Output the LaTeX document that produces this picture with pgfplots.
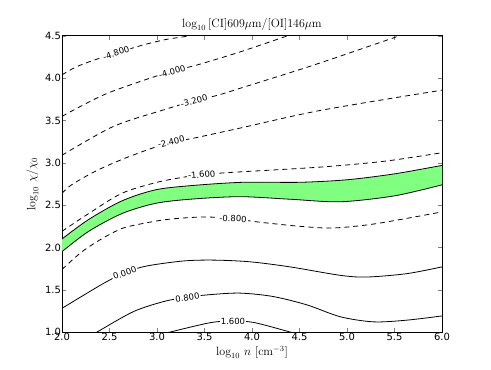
\documentclass[border=0pt]{standalone}
\usepackage{fontspec}
\usepackage{pgfplots}
\pgfplotsset{compat=1.18}
\usepgfplotslibrary{fillbetween}
\usetikzlibrary{calc}
\newfontfamily\dejavu{DejaVu Sans}
\definecolor{bandgreen}{RGB}{128,255,128}
\tikzset{clab/.style={font=\dejavu\fontsize{8.5}{10}\selectfont, fill=white, inner sep=1.2pt}}

\begin{document}
\begin{tikzpicture}
\begin{axis}[
    name=ax, set layers,
    width=380bp, height=296bp, scale only axis,
    xmin=2, xmax=6, ymin=1, ymax=4.5,
    xtick={2,2.5,3,3.5,4,4.5,5,5.5,6},
    ytick={1,1.5,2,2.5,3,3.5,4,4.5},
    tick align=inside,
    major tick length=4bp,
    axis line style={line width=1bp},
    ticklabel style={font=\dejavu\fontsize{10}{12}\selectfont},
    xticklabel style={yshift=2bp},
    yticklabel style={xshift=2.5bp},
    title={$\log_{10}\,[\mathrm{CI}]609\mu\mathrm{m}/[\mathrm{OI}]146\mu\mathrm{m}$},
    title style={font=\fontsize{12}{14}\selectfont, yshift=-4bp},
    xlabel={$\log_{10}\,n\ [\mathrm{cm}^{-3}]$},
    ylabel={$\log_{10}\,\chi/\chi_0$},
    xlabel style={yshift=2bp},
    label style={font=\fontsize{12}{14}\selectfont},
    cline/.style={black, line width=0.8bp, smooth, tension=0.5, mark=none},
    dline/.style={cline, dash pattern=on 5bp off 4bp},
    /pgf/number format/.cd, fixed, fixed zerofill, precision=1, assume math mode=true,
]
% green band between two contours
\addplot[cline, name path=up] coordinates {(2,2.10) (2.28,2.33) (2.63,2.55) (2.98,2.68) (3.35,2.73) (3.9,2.77) (4.5,2.77) (5.0,2.80) (5.5,2.87) (6,2.97)};
\addplot[cline, name path=lo] coordinates {(2,1.95) (2.28,2.19) (2.63,2.40) (2.98,2.52) (3.35,2.57) (3.87,2.60) (4.4,2.57) (4.93,2.54) (5.5,2.61) (6,2.74)};
\addplot[fill=bandgreen, draw=none] fill between[of=up and lo];

% dashed contours (negative levels)
\addplot[dline] coordinates {(2,4.04) (2.14,4.13) (2.35,4.22) (2.58,4.30) (2.84,4.39) (3.1,4.46) (3.33,4.50) (3.5,4.55)};
\addplot[dline] coordinates {(2,3.55) (2.43,3.80) (2.87,3.98) (3.15,4.08) (3.43,4.16) (3.87,4.31) (4.37,4.50) (4.5,4.54)};
\addplot[dline] coordinates {(2,3.09) (2.54,3.43) (3.08,3.63) (3.38,3.73) (3.64,3.80) (3.87,3.88) (4.66,4.16) (5.52,4.49) (5.6,4.52)};
\addplot[dline] coordinates {(2,2.64) (2.10,2.74) (2.35,2.90) (2.63,3.04) (2.94,3.17) (3.15,3.24) (3.42,3.30) (3.87,3.41) (4.72,3.62) (6,3.86)};
\addplot[dline] coordinates {(2,2.19) (2.28,2.40) (2.63,2.64) (3.0,2.77) (3.33,2.84) (3.49,2.86) (3.75,2.885) (4.72,2.95) (5.4,3.02) (6,3.12)};
\addplot[dline] coordinates {(2,1.74) (2.2,1.94) (2.40,2.09) (2.6,2.21) (2.75,2.26) (3.10,2.33) (3.49,2.36) (3.80,2.34) (4.07,2.30) (4.5,2.25) (4.85,2.23) (5.3,2.28) (6,2.42)};

% solid contours (positive levels)
\addplot[cline] coordinates {(2,1.28) (2.43,1.57) (2.66,1.70) (2.89,1.78) (3.28,1.84) (3.6,1.85) (3.98,1.83) (4.4,1.77) (4.93,1.67) (5.21,1.65) (5.63,1.69) (6,1.77)};
\addplot[cline] coordinates {(2.30,0.95) (2.37,1.0) (2.75,1.24) (3.07,1.36) (3.31,1.41) (3.54,1.44) (3.87,1.46) (4.22,1.42) (4.58,1.32) (4.93,1.18) (5.28,1.12) (5.63,1.14) (6,1.19)};
\addplot[cline] coordinates {(3.0,0.96) (3.14,1.0) (3.56,1.11) (3.80,1.13) (4.03,1.11) (4.40,1.0) (4.5,0.97)};

% contour labels
\node[clab, rotate=18] at (axis cs:2.57,4.30) {-4.800};
\node[clab, rotate=16] at (axis cs:3.16,4.08) {-4.000};
\node[clab, rotate=15] at (axis cs:3.39,3.73) {-3.200};
\node[clab, rotate=13] at (axis cs:3.15,3.25) {-2.400};
\node[clab, rotate=5] at (axis cs:3.47,2.86) {-1.600};
\node[clab, rotate=-2] at (axis cs:3.80,2.34) {-0.800};
\node[clab, rotate=20] at (axis cs:2.66,1.70) {0.000};
\node[clab, rotate=9] at (axis cs:3.32,1.41) {0.800};
\node[clab, rotate=0] at (axis cs:3.80,1.13) {1.600};
\end{axis}
\path ($(ax.south west)+(-62bp,-38bp)$) rectangle ($(ax.north east)+(49bp,36bp)$);
\end{tikzpicture}
\end{document}
